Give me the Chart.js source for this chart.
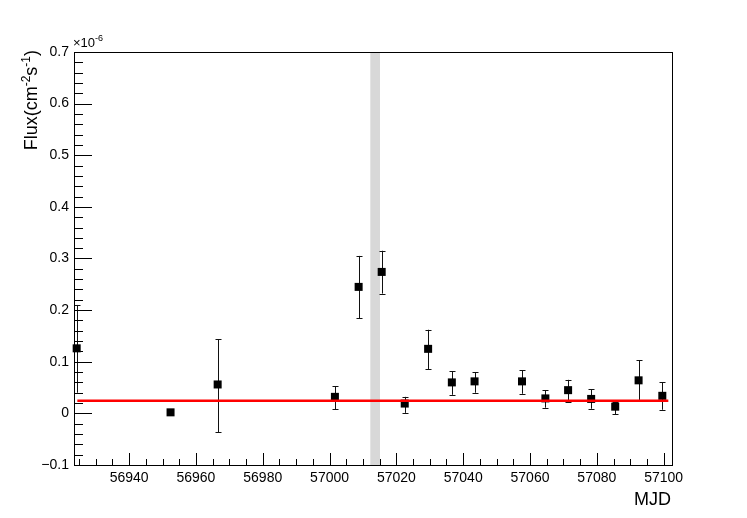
<!DOCTYPE html>
<html><head><meta charset="utf-8">
<script src="https://cdn.jsdelivr.net/npm/chart.js@4/dist/chart.umd.min.js"></script>
<style>html,body{margin:0;padding:0;background:#fff}#wrap{width:747px;height:518px}</style>
</head><body><div id="wrap"><canvas id="c" width="747" height="518"></canvas></div>
<script>
// Light curve: MJD vs flux (units of 1e-6 cm^-2 s^-1)
const mjd    = [56924.3, 56952.4, 56966.5, 57001.6, 57008.7, 57015.6, 57022.5, 57029.5, 57036.6, 57043.4, 57057.6, 57064.6, 57071.4, 57078.3, 57085.5, 57092.5, 57099.6];
const flux   = [0.126, 0.002, 0.056, 0.032, 0.245, 0.274, 0.019, 0.125, 0.060, 0.062, 0.062, 0.029, 0.045, 0.028, 0.013, 0.064, 0.034];
const fluxHi = [0.210, 0.002, 0.144, 0.053, 0.305, 0.315, 0.032, 0.162, 0.082, 0.080, 0.084, 0.045, 0.065, 0.047, 0.023, 0.103, 0.060];
const fluxLo = [0.040, 0.002, -0.037, 0.008, 0.184, 0.232, 0.001, 0.086, 0.036, 0.040, 0.038, 0.011, 0.022, 0.009, -0.002, 0.026, 0.007];
const fitLevel = 0.0246;
const fitRange = [56924.5, 57101.4];
const bandMJD  = [57012.2, 57015.1];
const xRange = [56923.5, 57102.5];
const yRange = [-0.1, 0.7];
const xTicks = [56940, 56960, 56980, 57000, 57020, 57040, 57060, 57080, 57100];
const yTicks = [-0.1, 0, 0.1, 0.2, 0.3, 0.4, 0.5, 0.6, 0.7];
const xMinorStep = 5, yMinorStep = 0.02;

const FONT = "'Liberation Sans', Arial, Helvetica, sans-serif";

const points = mjd.map((x, i) => ({x, y: flux[i]}));
const fitLine = fitRange.map(x => ({x, y: fitLevel}));

function drawSegs(ctx, segs, x, y, align) {
  // segs: [text, size, raise]
  let total = 0;
  segs.forEach(s => { ctx.font = s[1] + 'px ' + FONT; total += ctx.measureText(s[0]).width; });
  let cx = align === 'right' ? x - total : x;
  ctx.textAlign = 'left';
  ctx.textBaseline = 'alphabetic';
  segs.forEach(s => { ctx.font = s[1] + 'px ' + FONT; ctx.fillText(s[0], cx, y - s[2]); cx += ctx.measureText(s[0]).width; });
}

const rootPlugin = {
  id: 'rootStyle',
  beforeDatasetsDraw(chart) {
    const {ctx, chartArea: a, scales: {x, y}} = chart;
    // shaded band
    ctx.save();
    ctx.fillStyle = '#d8d8d8';
    const x0 = x.getPixelForValue(bandMJD[0]), x1 = x.getPixelForValue(bandMJD[1]);
    ctx.fillRect(x0, a.top, x1 - x0, a.bottom - a.top);
    // error bars
    ctx.strokeStyle = '#111';
    ctx.lineWidth = 1;
    mjd.forEach((m, i) => {
      const px = Math.round(x.getPixelForValue(m)) + 0.5;
      const ph = y.getPixelForValue(fluxHi[i]), pl = y.getPixelForValue(fluxLo[i]);
      if (Math.abs(pl - ph) < 1) return;
      ctx.beginPath();
      ctx.moveTo(px, ph); ctx.lineTo(px, pl);
      ctx.moveTo(px - 3, Math.round(ph) + 0.5); ctx.lineTo(px + 3, Math.round(ph) + 0.5);
      ctx.moveTo(px - 3, Math.round(pl) + 0.5); ctx.lineTo(px + 3, Math.round(pl) + 0.5);
      ctx.stroke();
    });
    ctx.restore();
  },
  afterDraw(chart) {
    const {ctx, chartArea: a, scales: {x, y}} = chart;
    ctx.save();
    ctx.strokeStyle = '#000';
    ctx.lineWidth = 1;
    ctx.strokeRect(Math.round(a.left) + 0.5, Math.round(a.top) + 0.5, Math.round(a.right - a.left), Math.round(a.bottom - a.top));
    ctx.beginPath();
    // y ticks (inside)
    for (let v = yRange[0]; v <= yRange[1] + 1e-9; v += yMinorStep) {
      const vv = Math.round(v * 100) / 100;
      const major = Math.abs(vv * 10 - Math.round(vv * 10)) < 1e-6;
      const py = Math.round(y.getPixelForValue(vv)) + 0.5;
      ctx.moveTo(a.left, py); ctx.lineTo(a.left + (major ? 18 : 9), py);
    }
    // x ticks (inside)
    const start = Math.ceil(xRange[0] / xMinorStep) * xMinorStep;
    for (let v = start; v <= xRange[1]; v += xMinorStep) {
      const major = v % 20 === 0;
      const px = Math.round(x.getPixelForValue(v)) + 0.5;
      ctx.moveTo(px, a.bottom); ctx.lineTo(px, a.bottom - (major ? 12 : 6));
    }
    ctx.stroke();
    ctx.fillStyle = '#000';
    // exponent label
    drawSegs(ctx, [['\u00d710', 13, 0], ['-6', 9, 6]], a.left - 1, a.top - 5, 'left');
    // x title
    drawSegs(ctx, [['MJD', 18, 0]], a.right - 1, 505, 'right');
    // y title
    ctx.translate(37, a.top - 2);
    ctx.rotate(-Math.PI / 2);
    drawSegs(ctx, [['Flux(cm', 18, 0], ['-2', 12, 7], ['s', 18, 0], ['-1', 12, 7], [')', 18, 0]], 0, 0, 'right');
    ctx.restore();
  }
};

new Chart(document.getElementById('c'), {
  type: 'scatter',
  data: {
    datasets: [
      {
        type: 'line',
        data: fitLine,
        borderColor: '#ff0000',
        borderWidth: 2.5,
        pointRadius: 0,
        fill: false,
        order: 0,
        clip: false
      },
      {
        data: points,
        pointStyle: 'rect',
        pointRadius: 5.66,
        backgroundColor: '#000',
        borderColor: '#000',
        borderWidth: 0,
        order: 1,
        clip: false
      }
    ]
  },
  options: {
    responsive: false,
    animation: false,
    events: [],
    layout: {padding: {left: 0, top: 52, right: 75, bottom: 0}},
    plugins: {legend: {display: false}, tooltip: {enabled: false}},
    scales: {
      x: {
        type: 'linear',
        min: xRange[0], max: xRange[1],
        grid: {display: false, drawTicks: false},
        border: {display: false},
        afterBuildTicks: s => { s.ticks = xTicks.map(v => ({value: v})); },
        afterFit: s => { s.height = 53; },
        ticks: {
          autoSkip: false, maxRotation: 0, padding: 5,
          color: '#000', font: {family: FONT, size: 14},
          callback: v => String(v)
        }
      },
      y: {
        type: 'linear',
        min: yRange[0], max: yRange[1],
        grid: {display: false, drawTicks: false},
        border: {display: false},
        afterBuildTicks: s => { s.ticks = yTicks.map(v => ({value: v})); },
        afterFit: s => { s.width = 74; },
        ticks: {
          autoSkip: false, padding: 5,
          color: '#000', font: {family: FONT, size: 14},
          callback: v => v === 0 ? '0' : (v < 0 ? '\u2212' : '') + Math.abs(v).toFixed(1)
        }
      }
    }
  },
  plugins: [rootPlugin]
});
</script>
</body></html>
